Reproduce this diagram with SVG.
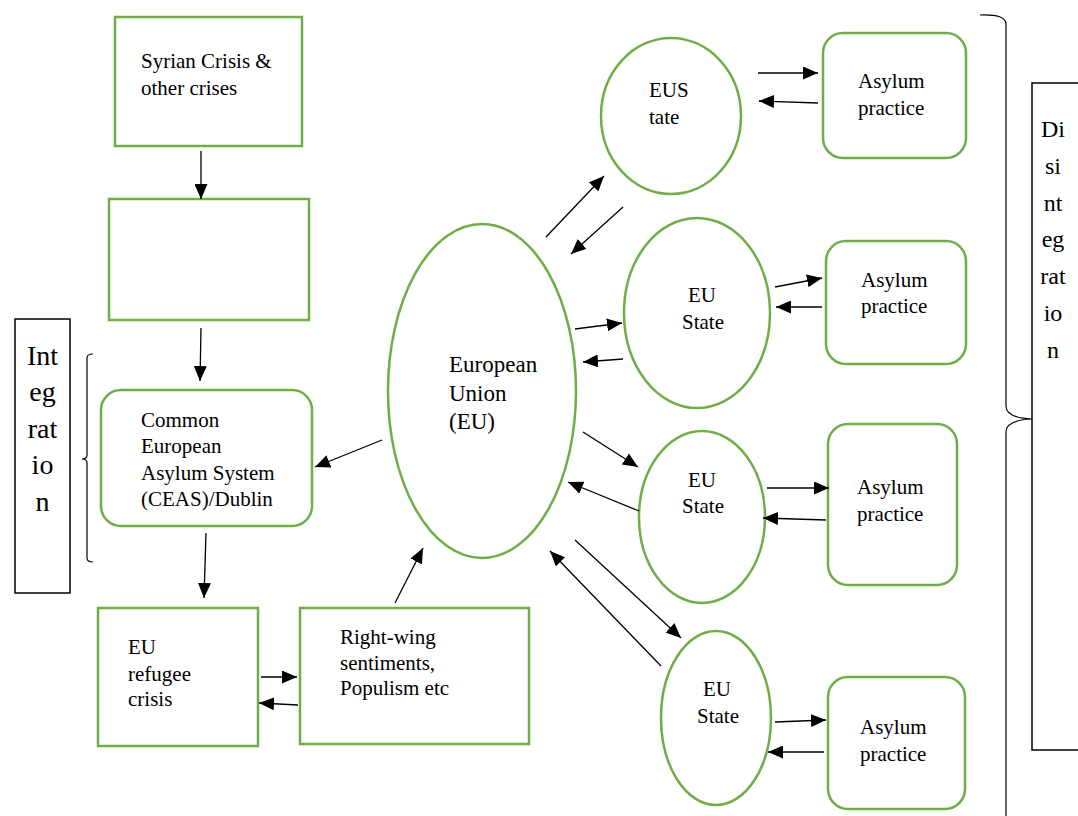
<svg xmlns="http://www.w3.org/2000/svg" width="1078" height="816" viewBox="0 0 1078 816">
<style>
.g{fill:#fff;stroke:#70AD47;stroke-width:2.5}
.t{font-family:"Liberation Serif","Times New Roman",serif;font-size:21px;fill:#000}
.big{font-family:"Liberation Serif","Times New Roman",serif;fill:#000;text-anchor:middle}
.c{stroke:#000;stroke-width:1.3;fill:none;marker-end:url(#ah)}
.k{fill:none;stroke:#000;stroke-width:1.5}
.kb{fill:none;stroke:#000;stroke-width:1.2}
</style>
<defs>
<marker id="ah" markerUnits="userSpaceOnUse" markerWidth="15" markerHeight="13" refX="15" refY="6.5" orient="auto">
<path d="M0,0 L15,6.5 L0,13 z" fill="#000"/>
</marker>
</defs>
<rect width="1078" height="816" fill="#fff"/>

<g id="syrian"><rect class="g" x="115" y="17" width="187" height="129"/>
<text class="t" x="141" y="68">Syrian Crisis &amp;</text><text class="t" x="141" y="95">other crises</text></g>
<g id="empty"><rect class="g" x="109" y="199" width="200" height="121"/></g>
<g id="ceas"><rect class="g" x="101" y="390" width="211" height="136" rx="20"/>
<text class="t" x="141" y="427">Common</text><text class="t" x="141" y="453">European</text><text class="t" x="141" y="480">Asylum System</text><text class="t" x="141" y="506">(CEAS)/Dublin</text></g>
<g id="refugee"><rect class="g" x="98" y="608" width="160" height="138"/>
<text class="t" x="128" y="654">EU</text><text class="t" x="128" y="681">refugee</text><text class="t" x="128" y="706">crisis</text></g>
<g id="rightwing"><rect class="g" x="300" y="608" width="229" height="136"/>
<text class="t" x="340" y="644">Right-wing</text><text class="t" x="340" y="670">sentiments,</text><text class="t" x="340" y="695">Populism etc</text></g>
<g id="eu"><ellipse class="g" cx="482" cy="391" rx="94" ry="167"/>
<text class="t" style="font-size:23px" x="449" y="372">European</text><text class="t" style="font-size:23px" x="449" y="401">Union</text><text class="t" style="font-size:23px" x="449" y="429">(EU)</text></g>
<g id="state1"><ellipse class="g" cx="671" cy="116" rx="70" ry="78"/>
<text class="t" x="649" y="97">EUS</text><text class="t" x="649" y="124">tate</text></g>
<g id="asylum1"><rect class="g" x="823" y="33" width="143" height="125" rx="20"/>
<text class="t" x="858" y="88">Asylum</text><text class="t" x="858" y="115">practice</text></g>
<g id="state2"><ellipse class="g" cx="697" cy="313" rx="73" ry="95"/>
<text class="t" x="688" y="302">EU</text><text class="t" x="682" y="329">State</text></g>
<g id="asylum2"><rect class="g" x="826" y="241" width="140" height="123" rx="20"/>
<text class="t" x="861" y="287">Asylum</text><text class="t" x="861" y="313">practice</text></g>
<g id="state3"><ellipse class="g" cx="702" cy="517" rx="63" ry="86"/>
<text class="t" x="688" y="487">EU</text><text class="t" x="682" y="513">State</text></g>
<g id="asylum3"><rect class="g" x="828" y="424" width="129" height="161" rx="20"/>
<text class="t" x="857" y="494">Asylum</text><text class="t" x="857" y="521">practice</text></g>
<g id="state4"><ellipse class="g" cx="716" cy="718" rx="55" ry="87"/>
<text class="t" x="703" y="696">EU</text><text class="t" x="697" y="723">State</text></g>
<g id="asylum4"><rect class="g" x="828" y="677" width="137" height="132" rx="20"/>
<text class="t" x="860" y="734">Asylum</text><text class="t" x="860" y="761">practice</text></g>

<g id="integration"><rect class="k" x="15" y="319" width="55" height="274"/>
<text class="big" style="font-size:28px" x="42.5" y="365">Int</text><text class="big" style="font-size:28px" x="42.5" y="401">eg</text><text class="big" style="font-size:28px" x="42.5" y="438">rat</text><text class="big" style="font-size:28px" x="42.5" y="474">io</text><text class="big" style="font-size:28px" x="42.5" y="511">n</text>
<path class="kb" d="M93,354 Q87,354 87,358 L87,455 Q87,459 82,459 Q87,459 87,463 L87,558 Q87,562 93,562"/></g>

<g id="disintegration"><rect class="k" x="1032" y="83" width="60" height="667"/>
<text class="big" style="font-size:24px" x="1053" y="137">Di</text><text class="big" style="font-size:24px" x="1053" y="174">si</text><text class="big" style="font-size:24px" x="1053" y="211">nt</text><text class="big" style="font-size:24px" x="1053" y="247">eg</text><text class="big" style="font-size:24px" x="1053" y="284">rat</text><text class="big" style="font-size:24px" x="1053" y="321">io</text><text class="big" style="font-size:24px" x="1053" y="358">n</text>
<path class="kb" d="M980,15 Q1006,14 1006,24 L1006,406 Q1006,418 1032,419 Q1006,420 1006,432 L1006,816"/></g>

<g id="connectors">
<line class="c" x1="201" y1="151" x2="201" y2="199"/>
<line class="c" x1="201" y1="328" x2="200" y2="381"/>
<line class="c" x1="206" y1="533" x2="204" y2="598"/>
<line class="c" x1="261" y1="677" x2="297" y2="677"/>
<line class="c" x1="298" y1="705" x2="259" y2="703"/>
<line class="c" x1="395" y1="603" x2="423" y2="548"/>
<line class="c" x1="382" y1="440" x2="315" y2="467"/>
<line class="c" x1="546" y1="237" x2="604" y2="176"/>
<line class="c" x1="623" y1="207" x2="571" y2="254"/>
<line class="c" x1="758" y1="73" x2="818" y2="73"/>
<line class="c" x1="818" y1="103" x2="759" y2="101"/>
<line class="c" x1="575" y1="329" x2="622" y2="323"/>
<line class="c" x1="623" y1="359" x2="583" y2="362"/>
<line class="c" x1="775" y1="287" x2="822" y2="278"/>
<line class="c" x1="822" y1="307" x2="776" y2="307"/>
<line class="c" x1="583" y1="432" x2="638" y2="467"/>
<line class="c" x1="639" y1="511" x2="568" y2="482"/>
<line class="c" x1="767" y1="488" x2="829" y2="488"/>
<line class="c" x1="826" y1="520" x2="763" y2="518"/>
<line class="c" x1="575" y1="540" x2="681" y2="638"/>
<line class="c" x1="661" y1="666" x2="550" y2="551"/>
<line class="c" x1="775" y1="722" x2="826" y2="720"/>
<line class="c" x1="824" y1="752" x2="768" y2="752"/>
</g>
</svg>
